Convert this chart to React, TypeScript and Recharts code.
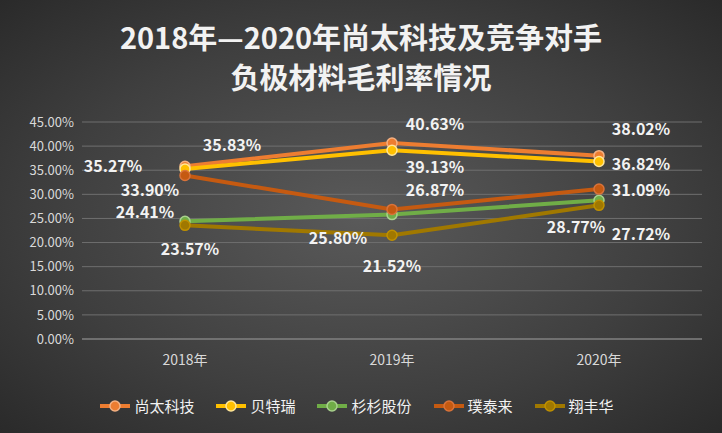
import React from 'react'
import { LineChart, Line, XAxis, YAxis, CartesianGrid, LabelList, Legend } from 'recharts'

const years = ['2018年', '2019年', '2020年']
const shangtai = [35.83, 40.63, 38.02]
const btr = [35.27, 39.13, 36.82]
const shanshan = [24.41, 25.8, 28.77]
const putailai = [33.9, 26.87, 31.09]
const xiangfenghua = [23.57, 21.52, 27.72]
const yTicks = [0, 5, 10, 15, 20, 25, 30, 35, 40, 45]

const data = years.map((y, i) => ({
  year: y,
  shangtai: shangtai[i],
  btr: btr[i],
  shanshan: shanshan[i],
  putailai: putailai[i],
  xiangfenghua: xiangfenghua[i],
}))

// label offsets (dx, dy) from each point
const offsets: Record<string, [number, number][]> = {
  shangtai: [[47, -22], [43, -20], [42, -28]],
  btr: [[-72, -4], [43, 16], [42, 2]],
  putailai: [[-35, 13], [43, -20], [42, 0]],
  shanshan: [[-40, -10], [-54, 22], [-23, 26]],
  xiangfenghua: [[5, 23], [0, 30], [42, 28]],
}

const series = [
  { key: 'shangtai', name: '尚太科技', color: '#ED7D31', dot: '#F4B183' },
  { key: 'btr', name: '贝特瑞', color: '#FFC000', dot: '#FFE699' },
  { key: 'shanshan', name: '杉杉股份', color: '#70AD47', dot: '#A9D18E' },
  { key: 'putailai', name: '璞泰来', color: '#C55A11', dot: '#D9733A' },
  { key: 'xiangfenghua', name: '翔丰华', color: '#A07800', dot: '#BF9000' },
]

const makeLabel = (key: string) => (props: any) => {
  const { x, y, value, index } = props
  const [dx, dy] = offsets[key][index]
  return (
    <text x={x + dx} y={y + dy} fill="#F2F2F2" fontSize={16} fontWeight="bold"
      textAnchor="middle" dominantBaseline="central" fontFamily="Noto Sans CJK SC, sans-serif">
      {value.toFixed(2)}%
    </text>
  )
}

function LegendContent() {
  return (
    <div style={{ display: 'flex', justifyContent: 'center', gap: 22, fontSize: 15, color: '#F2F2F2' }}>
      {series.map(s => (
        <div key={s.key} style={{ display: 'flex', alignItems: 'center' }}>
          <svg width={30} height={14} style={{ marginRight: 4 }}>
            <line x1={0} y1={7} x2={30} y2={7} stroke={s.color} strokeWidth={4} />
            <circle cx={15} cy={7} r={5} fill={s.color} stroke={s.dot} strokeWidth={1.5} />
          </svg>
          {s.name}
        </div>
      ))}
    </div>
  )
}

export default function App() {
  return (
    <div style={{
      position: 'absolute', left: 0, top: 0, width: 722, height: 433,
      background: 'radial-gradient(ellipse at center, #5a5a5a 0%, #3f3f3f 60%, #2a2a2a 100%)',
      fontFamily: 'Noto Sans CJK SC, sans-serif',
    }}>
      <div style={{
        position: 'absolute', top: 16, left: 0, width: 722, textAlign: 'center',
        color: '#F2F2F2', fontSize: 29, fontWeight: 'bold', lineHeight: '40px',
      }}>
        2018年—2020年尚太科技及竞争对手<br />负极材料毛利率情况
      </div>
      <div style={{ position: 'absolute', left: 0, top: 0 }}>
        <LineChart width={722} height={433} data={data} margin={{ top: 122, right: 20, bottom: 24, left: 12 }}>
          <CartesianGrid vertical={false} stroke="#6f6f6f" />
          <XAxis dataKey="year" axisLine={{ stroke: '#8a8a8a' }} tickLine={false}
            padding={{ left: 103, right: 103 }}
            tick={{ fill: '#D9D9D9', fontSize: 14 }} dy={8} />
          <YAxis domain={[0, 45]} ticks={yTicks} width={70} axisLine={false} tickLine={false}
            tick={{ fill: '#D9D9D9', fontSize: 13 }} tickFormatter={(v: number) => v.toFixed(2) + '%'} />
          <Legend verticalAlign="bottom" height={40} wrapperStyle={{ top: 395 }} content={<LegendContent />} />
          {series.map(s => (
            <Line key={s.key} dataKey={s.key} name={s.name} stroke={s.color} strokeWidth={4}
              dot={{ r: 5, fill: s.color, stroke: s.dot, strokeWidth: 1.5 }} isAnimationActive={false}>
              <LabelList dataKey={s.key} content={makeLabel(s.key)} />
            </Line>
          ))}
        </LineChart>
      </div>
    </div>
  )
}
